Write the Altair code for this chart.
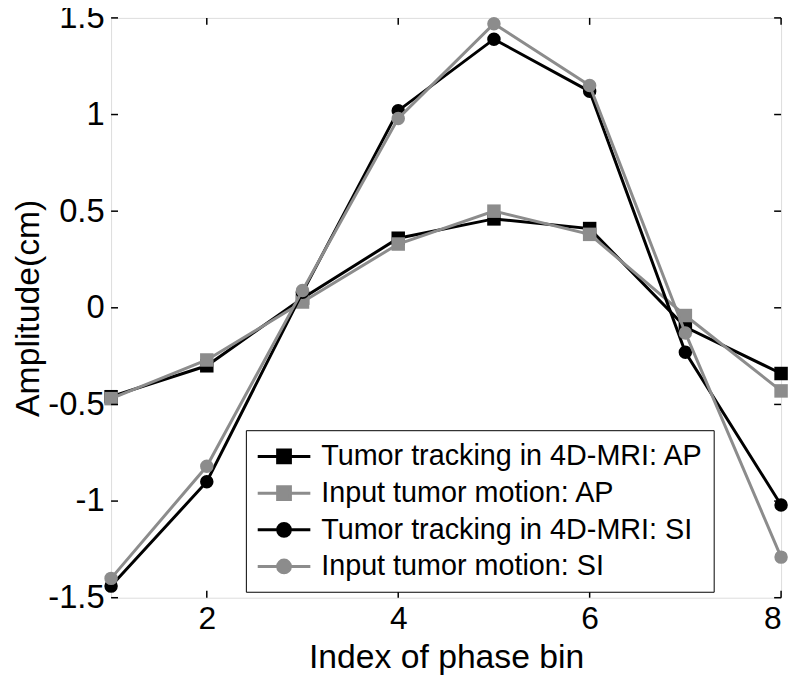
import altair as alt
import pandas as pd

phase = [1, 2, 3, 4, 5, 6, 7, 8]
track_ap = [-0.46, -0.30, 0.05, 0.36, 0.46, 0.41, -0.10, -0.34]
input_ap = [-0.47, -0.27, 0.03, 0.33, 0.50, 0.38, -0.04, -0.43]
track_si = [-1.44, -0.90, 0.08, 1.02, 1.39, 1.12, -0.23, -1.02]
input_si = [-1.40, -0.82, 0.09, 0.98, 1.47, 1.15, -0.13, -1.29]

series_names = [
    "Tumor tracking in 4D-MRI: AP",
    "Input tumor motion: AP",
    "Tumor tracking in 4D-MRI: SI",
    "Input tumor motion: SI",
]
series_values = [track_ap, input_ap, track_si, input_si]
series_colors = ["#000000", "#8c8c8c", "#000000", "#8c8c8c"]
series_shapes = ["square", "square", "circle", "circle"]

x_ticks = [2, 4, 6, 8]
y_ticks = [-1.5, -1, -0.5, 0, 0.5, 1, 1.5]

rows = []
for name, vals in zip(series_names, series_values):
    for p, v in zip(phase, vals):
        rows.append({"phase": p, "amp": v, "series": name})
df = pd.DataFrame(rows)

FONT = "Liberation Sans"
W, H = 676, 585

xscale = alt.Scale(domain=[1, 8], nice=False, zero=False)
yscale = alt.Scale(domain=[-1.5, 1.5], nice=False, zero=False)

x_axis = alt.Axis(values=x_ticks, title="Index of phase bin", labelFontSize=32,
                  titleFontSize=34, labelFont=FONT, titleFont=FONT, tickSize=0,
                  labelPadding=6, titleBaseline="alphabetic", titleY=70,
                  grid=False, domain=False,
                  labelColor="black", titleColor="black", titleFontWeight="normal",
                  labelExpr="'' + datum.value")
y_axis = alt.Axis(values=y_ticks, title="Amplitude(cm)", labelFontSize=33,
                  titleFontSize=34, labelFont=FONT, titleFont=FONT, tickSize=0,
                  labelPadding=7, titleBaseline="alphabetic", titleX=-73,
                  grid=False, domain=False,
                  labelColor="black", titleColor="black", titleFontWeight="normal",
                  labelExpr="'' + datum.value")

base = alt.Chart(df)
layers = []
for i, name in enumerate(series_names):
    sub = base.transform_filter(alt.datum.series == name)
    line = sub.mark_line(color=series_colors[i], strokeWidth=3).encode(
        x=alt.X("phase:Q", scale=xscale, axis=x_axis),
        y=alt.Y("amp:Q", scale=yscale, axis=y_axis),
    )
    pts = sub.mark_point(filled=True, shape=series_shapes[i], size=185,
                         color=series_colors[i], opacity=1).encode(
        x=alt.X("phase:Q", scale=xscale),
        y=alt.Y("amp:Q", scale=yscale),
    )
    layers += [line, pts]

# inward tick marks (box style)
xt = pd.DataFrame({"t": x_ticks})
yt = pd.DataFrame({"t": y_ticks})
tick_style = dict(color="black", strokeWidth=1.5)
layers.append(alt.Chart(xt).mark_rule(**tick_style).encode(
    x=alt.X("t:Q", scale=xscale), y=alt.value(H), y2=alt.value(H - 7)))
layers.append(alt.Chart(xt).mark_rule(**tick_style).encode(
    x=alt.X("t:Q", scale=xscale), y=alt.value(0), y2=alt.value(7)))
layers.append(alt.Chart(yt).mark_rule(**tick_style).encode(
    y=alt.Y("t:Q", scale=yscale), x=alt.value(0), x2=alt.value(7)))
layers.append(alt.Chart(yt).mark_rule(**tick_style).encode(
    y=alt.Y("t:Q", scale=yscale), x=alt.value(W), x2=alt.value(W - 7)))

# legend layer (no marks drawn, only legend)
sq_path = "M-1.77,0H1.77M-0.43,-0.43H0.43V0.43H-0.43Z"
ci_path = "M-1.77,0H1.77M0.43,0A0.43,0.43,0,1,1,-0.43,0A0.43,0.43,0,1,1,0.43,0Z"
leg_paths = [sq_path, sq_path, ci_path, ci_path]
legend = alt.Legend(title=None, orient="none", legendX=136, legendY=416,
                    labelFontSize=29, labelFont=FONT, labelColor="black",
                    symbolSize=900, symbolStrokeWidth=3, labelOffset=21,
                    symbolOffset=12,
                    strokeColor="black", fillColor="white", padding=10,
                    rowPadding=5, cornerRadius=0, labelLimit=700,
                    symbolOpacity=1)
leg_layer = base.transform_filter("false").mark_point(filled=True, opacity=1).encode(
    x=alt.X("phase:Q", scale=xscale),
    y=alt.Y("amp:Q", scale=yscale),
    fill=alt.Fill("series:N", scale=alt.Scale(domain=series_names, range=series_colors), legend=legend),
    stroke=alt.Stroke("series:N", scale=alt.Scale(domain=series_names, range=series_colors), legend=legend),
    shape=alt.Shape("series:N", scale=alt.Scale(domain=series_names, range=leg_paths), legend=legend),
)
layers.append(leg_layer)

chart = alt.layer(*layers).properties(
    width=W, height=H,
    autosize=alt.AutoSizeParams(type="none"),
    padding={"left": 104, "top": 7, "right": 9, "bottom": 75},
).configure_view(stroke="black", strokeWidth=2).configure(background="white")

chart.save("out.html", embed_options={"renderer": "svg", "actions": False})
